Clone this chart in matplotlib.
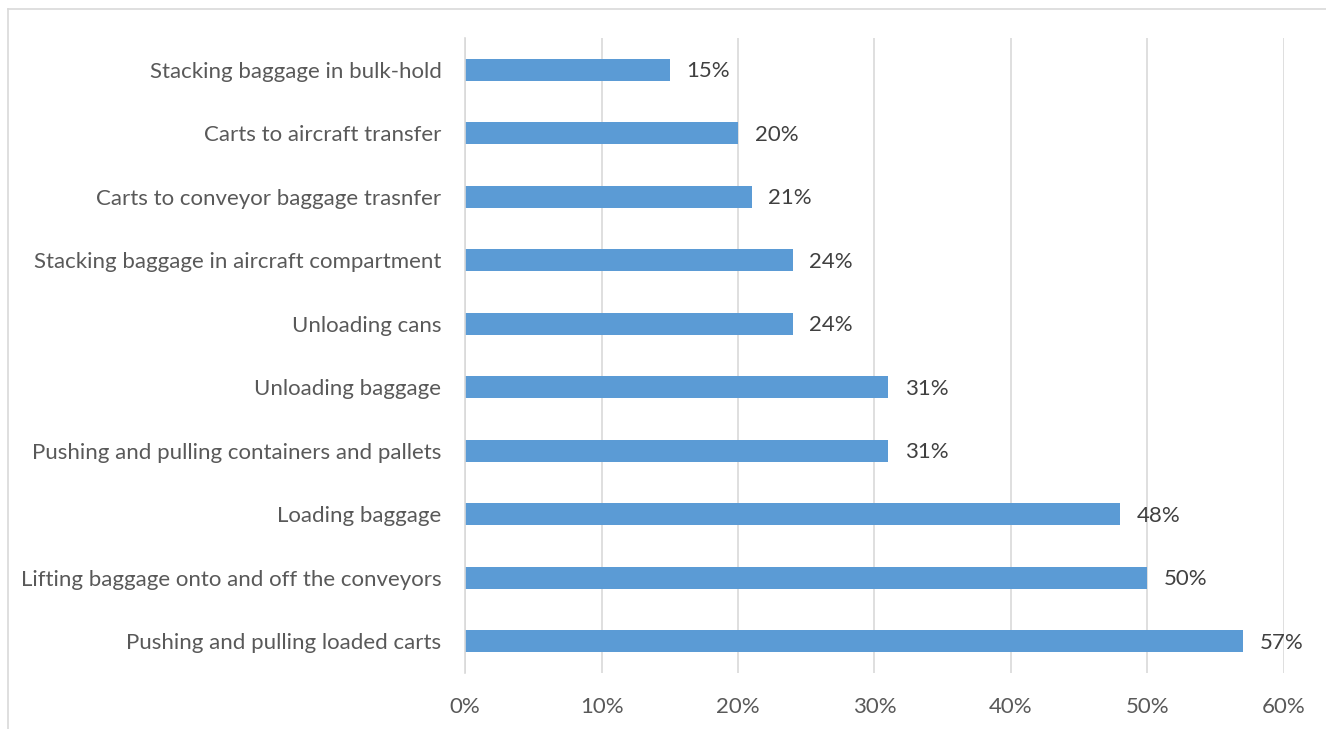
import matplotlib
matplotlib.use("Agg")
import matplotlib.pyplot as plt
from matplotlib.lines import Line2D

# tasks listed top to bottom, share of respondents (%)
tasks = [
    "Stacking baggage in bulk-hold",
    "Carts to aircraft transfer",
    "Carts to conveyor baggage trasnfer",
    "Stacking baggage in aircraft compartment",
    "Unloading cans",
    "Unloading baggage",
    "Pushing and pulling containers and pallets",
    "Loading baggage",
    "Lifting baggage onto and off the conveyors",
    "Pushing and pulling loaded carts",
]
shares = [15, 20, 21, 24, 24, 31, 31, 48, 50, 57]
xticks = [0, 10, 20, 30, 40, 50, 60]

plt.rcParams['font.family'] = ['Lato', 'DejaVu Sans']
text_col = '#595959'
label_col = '#404040'
bar_col = '#5B9BD5'

fig = plt.figure(figsize=(13.26, 7.29), dpi=100)
ax = fig.add_axes([0.3507, 0.0768, 0.6176, 0.8711])

ypos = list(range(len(tasks)))
ax.barh(ypos, shares, height=0.35, color=bar_col, zorder=3)
ax.set_ylim(len(tasks) - 0.5, -0.5)
ax.set_xlim(0, 60)

for y, v in zip(ypos, shares):
    ax.annotate(f"{v}%", (v, y), xytext=(12, -1), textcoords='offset points',
                va='center', ha='left', fontsize=16, color=label_col)

ax.set_yticks(ypos)
ax.set_yticklabels(tasks, fontsize=16, color=text_col)
ax.set_xticks(xticks)
ax.set_xticklabels([f"{t}%" for t in xticks], fontsize=16, color=text_col)
ax.tick_params(axis='both', length=0)
ax.tick_params(axis='y', pad=17)
ax.tick_params(axis='x', pad=17)

ax.grid(axis='x', color='#D9D9D9', linewidth=1.2, zorder=0)
for s in ['top', 'right', 'bottom']:
    ax.spines[s].set_visible(False)
ax.spines['left'].set_color('#D9D9D9')
ax.spines['left'].set_linewidth(1.2)
ax.spines['left'].set_zorder(4)

# chart area border (top and left edges)
fig.add_artist(Line2D([8 / 1326, 1.0], [1 - 9 / 729, 1 - 9 / 729],
                      color='#D9D9D9', linewidth=1.2))
fig.add_artist(Line2D([8 / 1326, 8 / 1326], [0.0, 1 - 9 / 729],
                      color='#D9D9D9', linewidth=1.2))

fig.savefig('out.png', dpi=100)
